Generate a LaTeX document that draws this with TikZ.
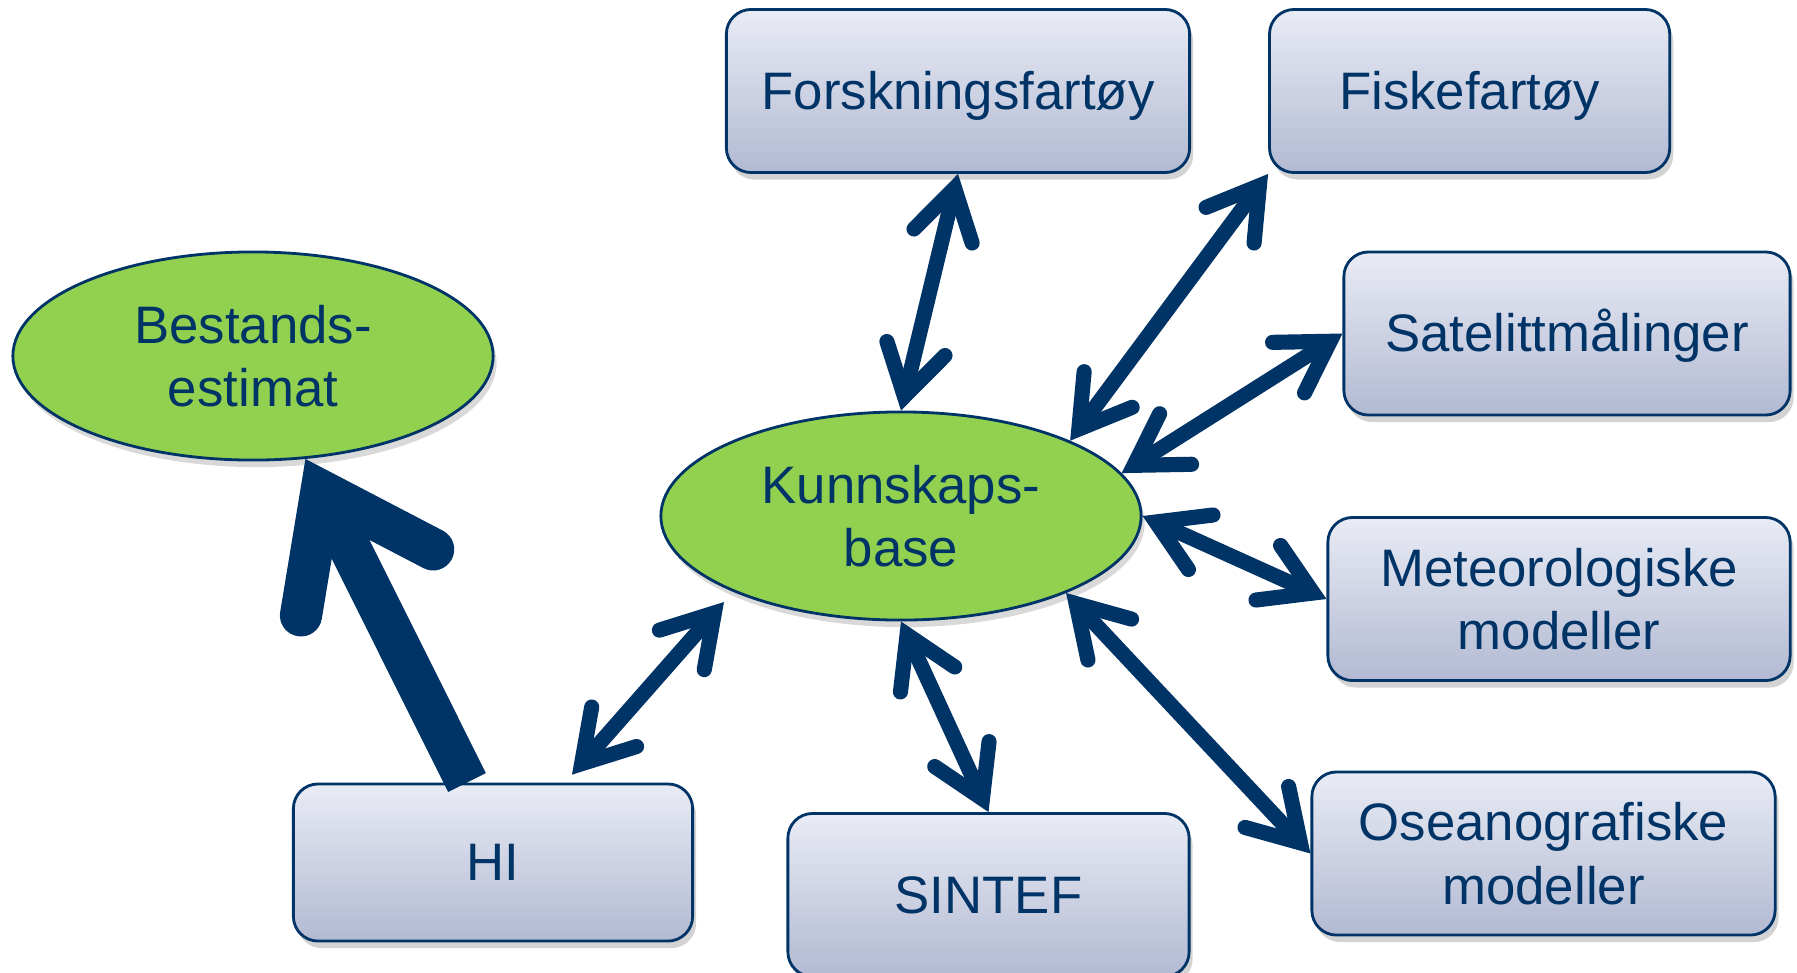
\documentclass[tikz,border=0pt]{standalone}
\usepackage{fontspec}
\setmainfont{Liberation Sans}
\usetikzlibrary{positioning}
\usetikzlibrary{arrows.meta}
\usetikzlibrary{calc}
\usetikzlibrary{shapes.geometric}
\usetikzlibrary{shadows}
\definecolor{navy}{RGB}{0,51,102}
\definecolor{kbgreen}{RGB}{146,208,80}
\definecolor{boxtop}{RGB}{233,236,245}
\definecolor{boxbot}{RGB}{178,185,210}

\begin{document}
\begin{tikzpicture}[x=0.01cm,y=-0.01cm,
	src/.style={rectangle,rounded corners=7pt,draw=navy,line width=0.8pt,top color=boxtop,bottom color=boxbot,
		drop shadow={opacity=0.35,shadow xshift=1pt,shadow yshift=-2pt},text=navy,align=center,
		minimum height=1.63cm,font=\fontsize{15}{18}\selectfont},
	oneline/.style={text height=13.6pt,text depth=3.2pt},
	base/.style={ellipse,draw=navy,fill=kbgreen,line width=0.8pt,inner sep=1pt,
		drop shadow={opacity=0.3,shadow xshift=1pt,shadow yshift=-2pt},text=navy,align=center,
		minimum width=4.8cm,minimum height=2.08cm,font=\fontsize{15}{18}\selectfont},
	>={Straight Barb[length=14pt,width=17pt,line cap=round,line join=miter]},
	link/.style={draw=navy,line width=4.3pt,<->},
	feed/.style={draw=navy,line width=12pt,-{Straight Barb[length=29pt,width=42pt,line cap=round,line join=miter]}}]
	\useasboundingbox (0,0) rectangle (1797,972);

	\node[base] (kb) at (901,516) {Kunnskaps-\\base};
	\node[base] (best) at (253,356) {Bestands-\\estimat};

	\node[src,oneline,minimum width=4.63cm] (forsk) at (958,91) {Forskningsfartøy};
	\node[src,oneline,minimum width=4.0cm] (fiske) [right=0.77cm of forsk] {Fiskefartøy};
	\node[src,oneline,minimum width=4.46cm] (sat) at (1567,333.5) {Satelittmålinger};
	\node[src,minimum width=4.62cm] (meteo) at (1559,599) {Meteorologiske\\modeller};
	\node[src,minimum width=4.63cm] (ocean) at (1543.5,853.5) {Oseanografiske\\modeller};
	\node[src,oneline,minimum width=4.01cm] (sintef) at (988.5,895) {SINTEF};
	\node[src,oneline,minimum width=3.99cm,minimum height=1.57cm] (hi) at (493,862.5) {HI};

	\draw[link] (forsk.south) -- (kb.north);
	\draw[link] (fiske.south west) -- (kb.24);
	\draw[link] (sat.west) -- (kb.11);
	\draw[link] (meteo.west) -- (kb.east);
	\draw[link] (ocean.west) -- (kb.335);
	\draw[link] (sintef.north) -- (kb.south);
	\draw[link, shorten <=3pt] (hi.48) -- ($(kb.center)+(-177,86)$);

	\draw[feed] (hi.108) -- (best.297);
\end{tikzpicture}
\end{document}
